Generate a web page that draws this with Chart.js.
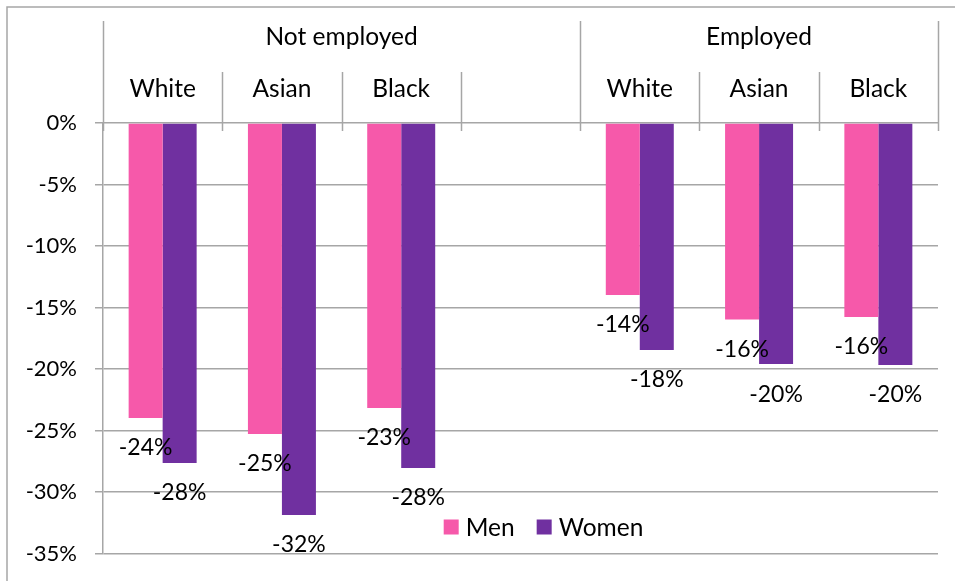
<!DOCTYPE html>
<html>
<head>
<meta charset="utf-8">
<script src="https://cdn.jsdelivr.net/npm/chart.js@4/dist/chart.umd.min.js"></script>
<style>
  html, body { margin: 0; padding: 0; background: #fff; }
  #wrap { width: 955px; height: 581px; position: relative; }
</style>
</head>
<body>
<div id="wrap"><canvas id="c" width="955" height="581"></canvas></div>
<script>
// Categories: two employment groups, separated by an empty column
const categories = ['White', 'Asian', 'Black', '', 'White', 'Asian', 'Black'];
const groups = [
  { label: 'Not employed', from: 0, to: 3 },
  { label: 'Employed', from: 4, to: 6 }
];
const menValues   = [-23.98, -25.28, -23.17, null, -13.98, -15.98, -15.77];
const womenValues = [-27.64, -31.87, -28.05, null, -18.46, -19.6, -19.67];
const yTicks = [0, -5, -10, -15, -20, -25, -30, -35];

const FONT = 'Lato, "Liberation Sans", sans-serif';
const WORD_SIZE = 24.5;
const NUM_SIZE = 22;
const LABEL_SIZE = 23;
const GRID = '#A6A6A6';
const PINK = '#F659AA';
const PURPLE = '#7030A0';

// Draws the frame, group header, category separators, value labels and legend
const decorations = {
  id: 'decorations',
  afterDraw(chart) {
    const ctx = chart.ctx;
    const xs = chart.scales.x;
    const area = chart.chartArea;
    const n = categories.length;
    const half = (xs.getPixelForValue(1) - xs.getPixelForValue(0)) / 2;
    const edge = i => i < n ? xs.getPixelForValue(i) - half : xs.getPixelForValue(n - 1) + half;

    ctx.save();
    // outer frame
    ctx.strokeStyle = GRID;
    ctx.lineWidth = 1.5;
    ctx.strokeRect(7, 7, chart.width + 20, chart.height + 20);

    // separators in the header
    const groupEdges = new Set();
    groups.forEach(g => { groupEdges.add(g.from); groupEdges.add(g.to + 1); });
    for (let i = 0; i <= n; i++) {
      const px = Math.round(edge(i)) + 0.5;
      const top = groupEdges.has(i) ? 21 : 72;
      ctx.beginPath();
      ctx.moveTo(px, top);
      ctx.lineTo(px, area.top + 8);
      ctx.stroke();
    }

    // group titles
    ctx.fillStyle = '#000';
    ctx.font = WORD_SIZE + 'px ' + FONT;
    ctx.textAlign = 'center';
    ctx.textBaseline = 'middle';
    groups.forEach(g => {
      const cx = (edge(g.from) + edge(g.to + 1)) / 2;
      ctx.fillText(g.label, cx, 37);
    });

    // value labels under each bar end
    ctx.font = LABEL_SIZE + 'px ' + FONT;
    chart.data.datasets.forEach((ds, di) => {
      const meta = chart.getDatasetMeta(di);
      meta.data.forEach((bar, i) => {
        const v = ds.data[i];
        if (v === null || v === undefined) return;
        ctx.fillText(Math.round(v) + '%', bar.x, bar.y + 30);
      });
    });

    // legend inside the plot area
    const items = chart.data.datasets.map(ds => ({ text: ds.label, color: ds.backgroundColor }));
    ctx.font = WORD_SIZE + 'px ' + FONT;
    ctx.textAlign = 'left';
    const box = 15, gapBox = 7, gapItem = 22;
    const widths = items.map(it => box + gapBox + ctx.measureText(it.text).width);
    const total = widths.reduce((a, b) => a + b, 0) + gapItem * (items.length - 1);
    let lx = (area.left + area.right) / 2 - total / 2 + 23;
    const ly = 527;
    items.forEach((it, k) => {
      ctx.fillStyle = it.color;
      ctx.fillRect(lx, ly - box / 2, box, box);
      ctx.fillStyle = '#000';
      ctx.fillText(it.text, lx + box + gapBox, ly + 1);
      lx += widths[k] + gapItem;
    });
    ctx.restore();
  }
};

new Chart(document.getElementById('c'), {
  type: 'bar',
  data: {
    labels: categories,
    datasets: [
      { label: 'Men', data: menValues, backgroundColor: PINK },
      { label: 'Women', data: womenValues, backgroundColor: PURPLE }
    ]
  },
  options: {
    responsive: false,
    animation: false,
    layout: { padding: { left: 0, right: 17, top: 0, bottom: 27.5 } },
    categoryPercentage: 0.57,
    barPercentage: 1.0,
    plugins: { legend: { display: false }, tooltip: { enabled: false } },
    scales: {
      x: {
        position: 'top',
        grid: { display: false, drawTicks: false },
        border: { display: false },
        ticks: { color: '#000', font: { family: FONT, size: WORD_SIZE }, padding: 19, maxRotation: 0, autoSkip: false },
        afterFit: s => { s.height = 123; }
      },
      y: {
        min: -35,
        max: 0,
        afterBuildTicks: s => { s.ticks = yTicks.map(v => ({ value: v })); },
        grid: { color: GRID, lineWidth: 1.5, tickLength: 8 },
        border: { display: true, color: GRID, width: 1.5 },
        ticks: { color: '#000', font: { family: FONT, size: NUM_SIZE }, padding: 18, callback: v => v + '%' },
        afterFit: s => { s.width = 103; s.paddingTop = 0; s.paddingBottom = 0; }
      }
    }
  },
  plugins: [decorations]
});
</script>
</body>
</html>
